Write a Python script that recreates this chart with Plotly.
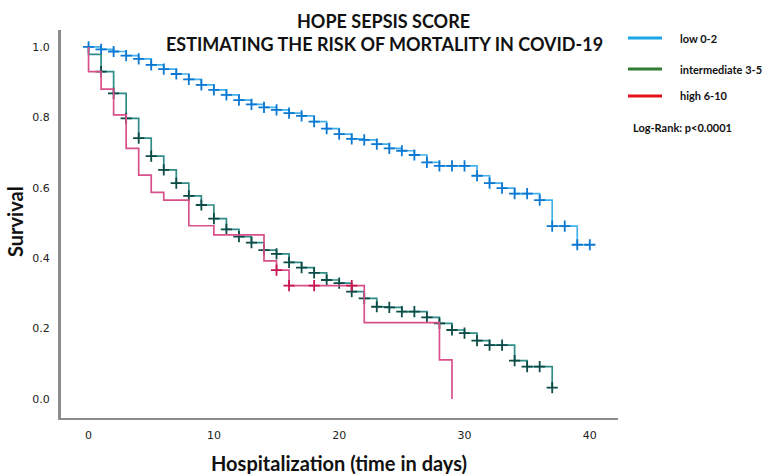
import plotly.graph_objects as go

# ---- data (Kaplan-Meier estimates) ----
group_names = ["low 0-2", "intermediate 3-5", "high 6-10"]

low_days = list(range(0, 41))
low_surv = [1.0, 0.993, 0.987, 0.975, 0.966, 0.949, 0.937, 0.923, 0.908, 0.892,
            0.878, 0.864, 0.849, 0.837, 0.828, 0.821, 0.812, 0.804, 0.788, 0.768,
            0.752, 0.739, 0.736, 0.724, 0.712, 0.705, 0.693, 0.672, 0.662, 0.662,
            0.662, 0.634, 0.613, 0.599, 0.583, 0.583, 0.565, 0.491, 0.491, 0.438, 0.438]
low_censored = list(range(0, 41))

mid_days = [0] + list(range(0, 38))
mid_surv = [1.0, 0.979, 0.930, 0.868, 0.797, 0.741, 0.690, 0.651, 0.613, 0.577,
            0.551, 0.512, 0.482, 0.461, 0.444, 0.423, 0.412, 0.388, 0.373, 0.358,
            0.338, 0.329, 0.305, 0.286, 0.262, 0.260, 0.248, 0.248, 0.232, 0.215,
            0.196, 0.187, 0.166, 0.153, 0.153, 0.109, 0.092, 0.092, 0.032]
mid_censored = list(range(1, 38))

high_days = [0, 0, 1, 2, 3, 4, 5, 6, 8, 10, 14, 15, 16, 22, 28, 29]
high_surv = [1.0, 0.930, 0.880, 0.807, 0.712, 0.636, 0.587, 0.565, 0.492, 0.466,
             0.392, 0.366, 0.322, 0.217, 0.111, 0.0]
high_censored = [15, 16, 18, 21]

x_ticks = [0, 10, 20, 30, 40]
y_ticks = [0.0, 0.2, 0.4, 0.6, 0.8, 1.0]
p_value_text = "Log-Rank: p<0.0001"

# ---- styling ----
line_colors = ["#45b0ea", "#2f8c86", "#d9508a"]
mark_colors = ["#0a78d2", "#0d4b47", "#c8174f"]
legend_colors = ["#19a6ea", "#2e7d32", "#e5121e"]
axis_color = "#8c8c8c"


def surv_at(days, surv, t):
    val = surv[0]
    for d, s in zip(days, surv):
        if d <= t:
            val = s
    return val


fig = go.Figure()
groups = [(low_days, low_surv, low_censored),
          (mid_days, mid_surv, mid_censored),
          (high_days, high_surv, high_censored)]

for i, (days, surv, cens) in enumerate(groups):
    fig.add_trace(go.Scatter(
        x=days, y=surv, mode="lines", line_shape="hv",
        line=dict(color=line_colors[i], width=1.7),
        name=group_names[i], showlegend=False, hoverinfo="skip"))
    fig.add_trace(go.Scatter(
        x=cens, y=[surv_at(days, surv, t) for t in cens], mode="markers",
        marker=dict(symbol="cross-thin", size=8,
                    line=dict(color=mark_colors[i], width=1.8)),
        name=group_names[i] + " censored", showlegend=False))

W, H = 765, 474
L, R, T, B = 60, 147, 30, 56
pw, ph = W - L - R, H - T - B


def px(xpix):
    return (xpix - L) / pw


def py(ypix):
    return (H - B - ypix) / ph


annotations = [
    dict(text="<b>HOPE SEPSIS SCORE</b>", x=px(383), y=py(21), xref="paper", yref="paper",
         showarrow=False, xanchor="center", yanchor="middle",
         font=dict(family="Lato", size=18, color="#111")),
    dict(text="<b>ESTIMATING THE RISK OF MORTALITY IN COVID-19</b>", x=px(384), y=py(44),
         xref="paper", yref="paper", showarrow=False, xanchor="center", yanchor="middle",
         font=dict(family="Lato", size=18, color="#111")),
    dict(text="<b>Survival</b>", x=px(15), y=py(222), xref="paper", yref="paper",
         showarrow=False, textangle=-90, xanchor="center", yanchor="middle",
         font=dict(family="Lato", size=20, color="#111")),
    dict(text="<b>Hospitalization (time in days)</b>", x=px(339), y=py(463),
         xref="paper", yref="paper", showarrow=False, xanchor="center", yanchor="middle",
         font=dict(family="Lato", size=20, color="#111")),
    dict(text="<b>" + p_value_text + "</b>", x=px(631), y=py(127), xref="paper", yref="paper",
         showarrow=False, xanchor="left", yanchor="middle",
         font=dict(family="Lato", size=11, color="#111")),
]
# left axis frame line (drawn explicitly so it is always visible)
shapes = [dict(type="line", xref="paper", yref="paper", x0=0, x1=0, y0=0, y1=1,
               line=dict(color=axis_color, width=2), layer="below")]
legend_y = [38, 69, 96]
for i, name in enumerate(group_names):
    shapes.append(dict(type="line", xref="paper", yref="paper",
                       x0=px(628), x1=px(662), y0=py(legend_y[i]), y1=py(legend_y[i]),
                       line=dict(color=legend_colors[i], width=3)))
    annotations.append(dict(text="<b>" + name + "</b>", x=px(678), y=py(legend_y[i]),
                            xref="paper", yref="paper", showarrow=False,
                            xanchor="left", yanchor="middle",
                            font=dict(family="Lato", size=11, color="#111")))

fig.update_layout(
    width=W, height=H, autosize=False,
    margin=dict(l=L, r=R, t=T, b=B, pad=0),
    paper_bgcolor="white", plot_bgcolor="white",
    showlegend=False,
    annotations=annotations, shapes=shapes,
    xaxis=dict(range=[-2.28, 42.25], tickvals=x_ticks, ticktext=[str(v) for v in x_ticks],
               showline=True, linecolor=axis_color, linewidth=2, showgrid=False,
               zeroline=False, ticks="", ticklabelstandoff=6,
               tickfont=dict(family="DejaVu Sans", size=11, color="#222")),
    yaxis=dict(range=[-0.054, 1.048], tickvals=y_ticks, tickformat=".1f",
               showline=True, linecolor=axis_color, linewidth=2, showgrid=False,
               zeroline=False, ticks="", ticklabelstandoff=6,
               tickfont=dict(family="DejaVu Sans", size=11, color="#222")),
)

fig.write_html("out.html",
               config={"displayModeBar": False},
               post_script="document.body.style.margin='0px';"
                           "document.body.style.overflow='hidden';")
